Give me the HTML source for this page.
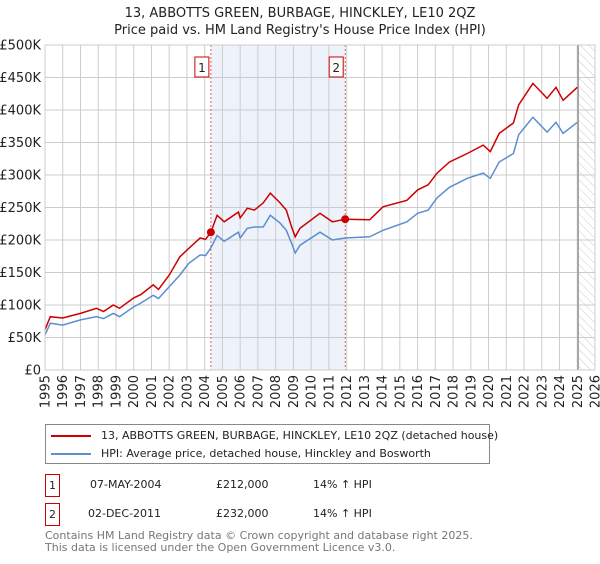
<!DOCTYPE html>
<html><head><meta charset="utf-8"><style>
body{margin:0;background:#fff;font-family:"DejaVu Sans","Liberation Sans",sans-serif;}
svg text{font-family:"DejaVu Sans","Liberation Sans",sans-serif;}
</style></head><body>
<svg id="c" width="600" height="560" xmlns="http://www.w3.org/2000/svg"></svg>
<script>
const years=[1995.0,1995.3,1996.0,1997.0,1997.9,1998.3,1998.85,1999.2,2000.0,2000.4,2001.1,2001.4,2002.0,2002.6,2003.1,2003.75,2004.05,2004.35,2004.7,2005.1,2005.9,2006.0,2006.4,2006.8,2007.3,2007.7,2008.25,2008.6,2008.9,2009.1,2009.37,2010.5,2011.2,2011.92,2013.3,2014.05,2015.4,2016.0,2016.6,2017.1,2017.8,2018.8,2019.7,2020.1,2020.6,2021.4,2021.7,2022.5,2023.3,2023.8,2024.2,2025.0];
const priceSeries=[62,82,80,87,95,90,100,95,111,116,131,124,146,174,187,203,201,212,238,228,243,234,249,246,257,272,257,246,220,205,218,241,228,232,231,251,261,277,285,303,320,333,346,336,364,380,408,441,418,435,415,435];
const hpiSeries=[54,72,69,77,82,79,87,82,97,103,115,110,128,146,164,177,176,188,207,198,212,203,218,220,220,238,226,215,195,180,192,212,200,203,205,215,228,241,246,265,281,295,303,295,320,333,362,389,366,381,364,381];
const yTicks=[0,50,100,150,200,250,300,350,400,450,500];
const yTickLabels=["£0","£50K","£100K","£150K","£200K","£250K","£300K","£350K","£400K","£450K","£500K"];
const xTicks=[1995,1996,1997,1998,1999,2000,2001,2002,2003,2004,2005,2006,2007,2008,2009,2010,2011,2012,2013,2014,2015,2016,2017,2018,2019,2020,2021,2022,2023,2024,2025,2026];
const sales=[2004.35,2011.92];
const saleValues=[212,232];
const saleLabels=["1","2"];
const L=45,R=595,T=45,B=370;
const X=y=>L+(y-1995)/(2026-1995)*(R-L);
const Y=v=>B-v/500*(B-T);
const svg=document.getElementById('c');
const NS="http://www.w3.org/2000/svg";
function mk(t,a,p){const e=document.createElementNS(NS,t);for(const k in a)e.setAttribute(k,a[k]);(p||svg).appendChild(e);return e;}
let d=mk('defs',{});
let pat=mk('pattern',{id:'h',width:6,height:6,patternUnits:'userSpaceOnUse',patternTransform:'rotate(-45)'},d);
mk('line',{x1:0,y1:0,x2:0,y2:6,stroke:'#ccc','stroke-width':1},pat);
let sh=mk('rect',{x:X(sales[0]),y:T,width:X(sales[1])-X(sales[0]),height:B-T,fill:'#eef2fb'});


let ht=mk('rect',{x:X(2025.05),y:T,width:R-X(2025.05),height:B-T,fill:'url(#h)'});


xTicks.forEach(t=>{let l=mk('line',{x1:X(t),x2:X(t),y1:T,y2:B,stroke:'#ccc','stroke-width':1});


let tx=mk('text',{x:0,y:0,'font-size':13,fill:'#222','text-anchor':'end',transform:`translate(${X(t)+4.5},375) rotate(-90)`});tx.textContent=t;

});
yTicks.forEach((t,i)=>{let l=mk('line',{x1:L,x2:R,y1:Y(t),y2:Y(t),stroke:'#ccc','stroke-width':1});


let tx=mk('text',{x:L-4,y:Y(t)+4.5,'font-size':13,fill:'#222','text-anchor':'end'});tx.textContent=yTickLabels[i];

});
let nl=mk('line',{x1:X(2025.05),x2:X(2025.05),y1:T,y2:B,stroke:'#999','stroke-width':1.5});


sales.forEach((s,i)=>{let l=mk('line',{x1:X(s),x2:X(s),y1:T,y2:B,stroke:'#e06060','stroke-dasharray':'2,2','stroke-width':1});


let g=mk('g',{});


mk('rect',{x:X(s)-16,y:57,width:14,height:20,fill:'#fff',stroke:'#c00'},g);
let t=mk('text',{x:X(s)-9,y:72,'font-size':12,'text-anchor':'middle',fill:'#222'},g);t.textContent=saleLabels[i];});
function path(vals){return vals.map((v,i)=>(i?'L':'M')+X(years[i]).toFixed(1)+','+Y(v).toFixed(1)).join('');}
let hp=mk('path',{d:path(hpiSeries),fill:'none',stroke:'#5b8fd0','stroke-width':1.5});


let pp=mk('path',{d:path(priceSeries),fill:'none',stroke:'#cc0000','stroke-width':1.5});


sales.forEach((s,i)=>{let c=mk('circle',{cx:X(s),cy:Y(saleValues[i]),r:4,fill:'#cc0000'});

});
mk('rect',{x:L,y:T,width:R-L,height:B-T,fill:'none',stroke:'#ccc'});
let t1=mk('text',{x:300,y:17,'font-size':13,'text-anchor':'middle',fill:'#222'});t1.textContent="13, ABBOTTS GREEN, BURBAGE, HINCKLEY, LE10 2QZ";


let t2=mk('text',{x:300,y:34,'font-size':13,'text-anchor':'middle',fill:'#222'});t2.textContent="Price paid vs. HM Land Registry's House Price Index (HPI)";


</script>
<div style="position:absolute;left:45px;top:424px;width:443px;height:38px;border:1px solid #888;font-size:11px;color:#222;">
 <div style="position:absolute;left:5px;top:4px;white-space:nowrap;"><span style="display:inline-block;width:40px;height:2px;background:#cc0000;vertical-align:middle;margin-right:10px"></span>13, ABBOTTS GREEN, BURBAGE, HINCKLEY, LE10 2QZ (detached house)</div>
 <div style="position:absolute;left:5px;top:22px;white-space:nowrap;"><span style="display:inline-block;width:40px;height:2px;background:#5b8fd0;vertical-align:middle;margin-right:10px"></span>HPI: Average price, detached house, Hinckley and Bosworth</div>
</div>
<div style="position:absolute;left:45px;top:474px;font-size:11px;color:#222;">
 <div style="position:absolute;top:0;white-space:nowrap;"><span style="position:absolute;left:0;top:0;width:13px;height:21px;border:1px solid #c00;text-align:center;line-height:21px;">1</span><span style="position:absolute;left:45px;top:4px;">07-MAY-2004</span><span style="position:absolute;left:171px;top:4px;">£212,000</span><span style="position:absolute;left:268px;top:4px;">14% ↑ HPI</span></div>
 <div style="position:absolute;top:29px;white-space:nowrap;"><span style="position:absolute;left:0;top:0;width:13px;height:21px;border:1px solid #c00;text-align:center;line-height:21px;">2</span><span style="position:absolute;left:43px;top:4px;">02-DEC-2011</span><span style="position:absolute;left:171px;top:4px;">£232,000</span><span style="position:absolute;left:268px;top:4px;">14% ↑ HPI</span></div>
</div>
<div style="position:absolute;left:45px;top:530px;font-size:11px;line-height:12px;color:#777;white-space:nowrap;">Contains HM Land Registry data © Crown copyright and database right 2025.<br>This data is licensed under the Open Government Licence v3.0.</div>
</body></html>
